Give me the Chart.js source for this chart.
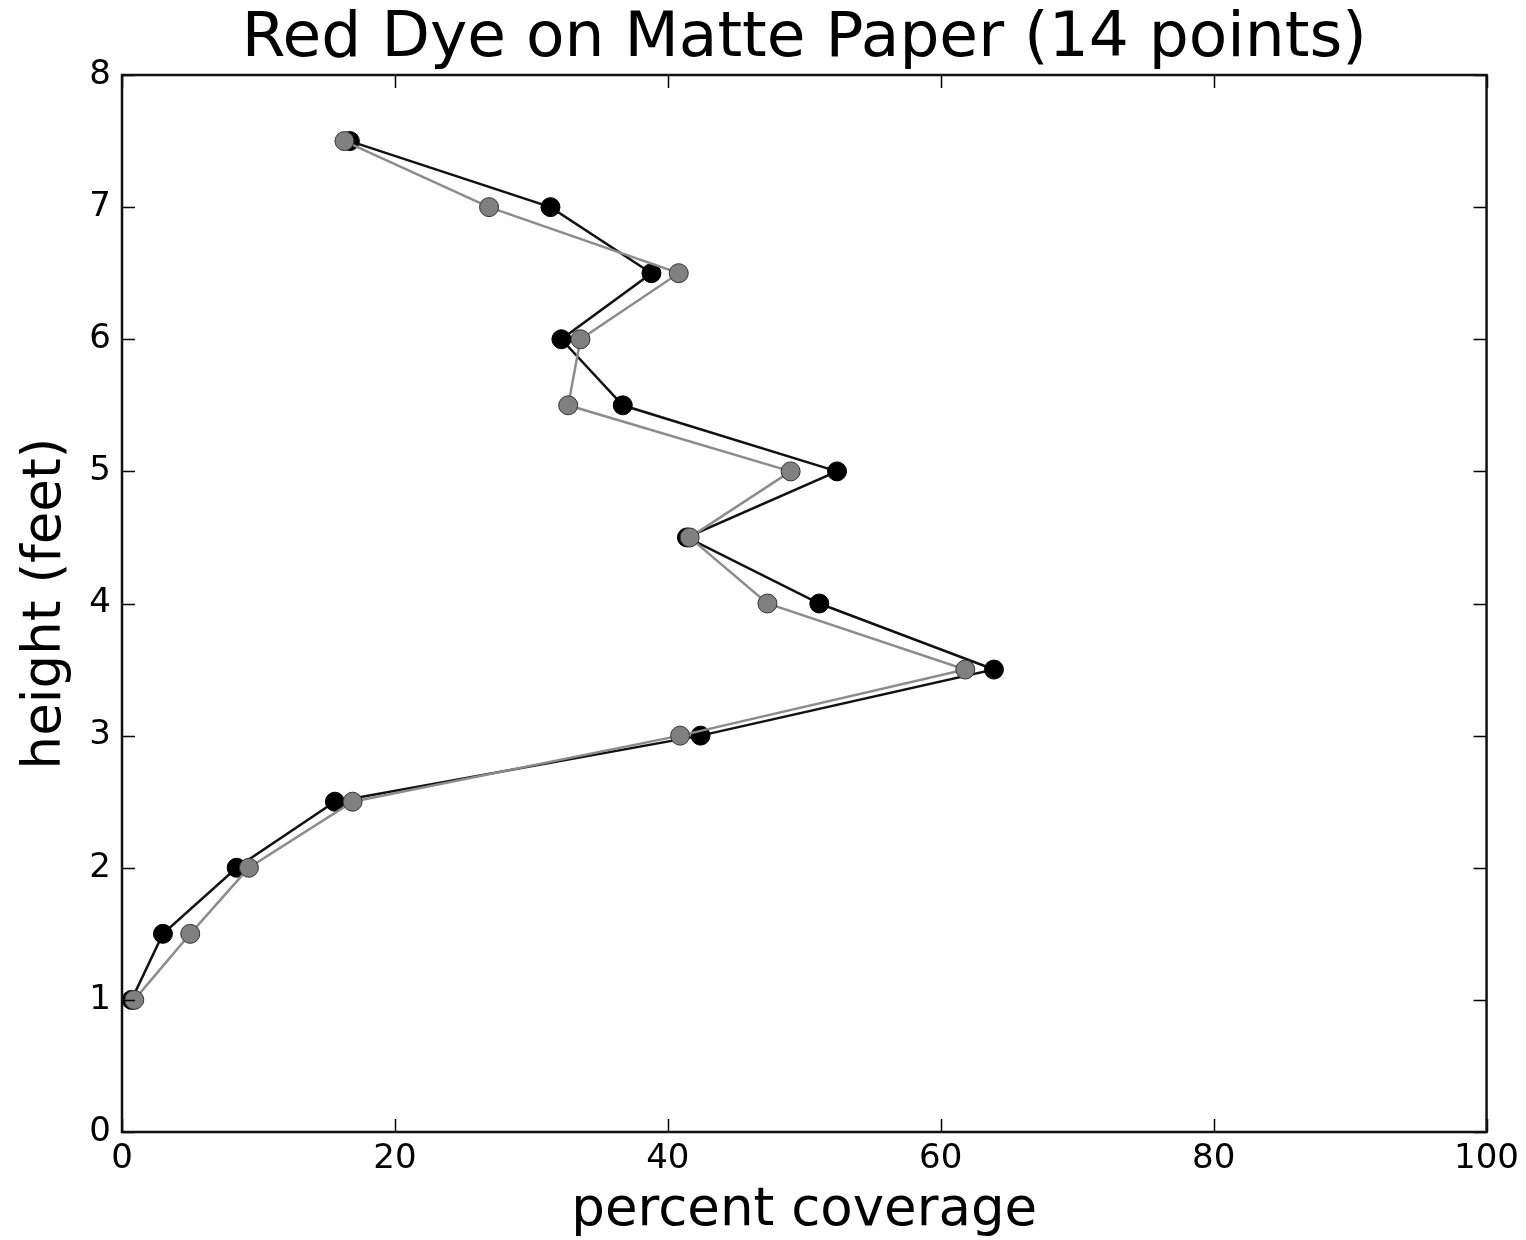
<!DOCTYPE html>
<html>
<head>
<meta charset="utf-8">
<title>Red Dye on Matte Paper (14 points)</title>
<script src="https://cdn.jsdelivr.net/npm/chart.js@4/dist/chart.umd.min.js"></script>
<style>
  html, body { margin: 0; padding: 0; background: #ffffff; }
  #c { display: block; }
</style>
</head>
<body>
<canvas id="c" width="1526" height="1240"></canvas>
<script>
// ---- data ----
const heights = [7.5, 7.0, 6.5, 6.0, 5.5, 5.0, 4.5, 4.0, 3.5, 3.0, 2.5, 2.0, 1.5, 1.0];
const blackCoverage = [16.7, 31.4, 38.8, 32.2, 36.7, 52.4, 41.4, 51.1, 63.9, 42.4, 15.6, 8.4, 3.0, 0.7];
const grayCoverage  = [16.3, 26.9, 40.8, 33.6, 32.7, 49.0, 41.6, 47.3, 61.8, 40.9, 16.9, 9.3, 5.0, 0.9];
const xTickValues = [0, 20, 40, 60, 80, 100];
const yTickValues = [0, 1, 2, 3, 4, 5, 6, 7, 8];
const chartTitle = 'Red Dye on Matte Paper (14 points)';
const xTitle = 'percent coverage';
const yTitle = 'height (feet)';

const FONT = "'DejaVu Sans', 'Liberation Sans', sans-serif";

function toPoints(xs, ys) {
  return xs.map((v, i) => ({ x: v, y: ys[i] }));
}

const whiteBg = {
  id: 'whiteBg',
  beforeDraw(chart) {
    const ctx = chart.ctx;
    ctx.save();
    ctx.fillStyle = '#ffffff';
    ctx.fillRect(0, 0, chart.width, chart.height);
    ctx.restore();
  }
};

const frame = {
  id: 'frame',
  afterDraw(chart) {
    const { ctx, chartArea: a, scales } = chart;
    const xs = scales.x, ys = scales.y;
    const tl = 13;
    ctx.save();
    ctx.strokeStyle = '#000000';
    ctx.lineWidth = 1.5;
    ctx.beginPath();
    xTickValues.forEach(v => {
      const px = Math.round(xs.getPixelForValue(v)) + 0.5;
      ctx.moveTo(px, a.bottom); ctx.lineTo(px, a.bottom - tl);
      ctx.moveTo(px, a.top); ctx.lineTo(px, a.top + tl);
    });
    yTickValues.forEach(v => {
      const py = Math.round(ys.getPixelForValue(v)) + 0.5;
      ctx.moveTo(a.left, py); ctx.lineTo(a.left + tl, py);
      ctx.moveTo(a.right, py); ctx.lineTo(a.right - tl, py);
    });
    ctx.stroke();
    ctx.lineWidth = 2.5;
    ctx.strokeStyle = '#111111';
    ctx.strokeRect(a.left, a.top, a.right - a.left, a.bottom - a.top);
    ctx.restore();
  }
};

new Chart(document.getElementById('c'), {
  type: 'scatter',
  data: {
    datasets: [
      {
        label: 'gray',
        data: toPoints(grayCoverage, heights),
        showLine: true,
        borderColor: '#8c8c8c',
        borderWidth: 2.5,
        pointBackgroundColor: '#808080',
        pointBorderColor: '#333333',
        pointBorderWidth: 1,
        pointRadius: 9.5,
        pointHoverRadius: 9.5,
        order: 0,
        clip: false
      },
      {
        label: 'black',
        data: toPoints(blackCoverage, heights),
        showLine: true,
        borderColor: '#111111',
        borderWidth: 2.5,
        pointBackgroundColor: '#000000',
        pointBorderColor: '#000000',
        pointBorderWidth: 1,
        pointRadius: 9.5,
        pointHoverRadius: 9.5,
        order: 1,
        clip: false
      }
    ]
  },
  options: {
    responsive: false,
    animation: false,
    events: [],
    layout: { padding: { left: 0, right: 39, top: 0, bottom: 0 } },
    plugins: {
      legend: { display: false },
      tooltip: { enabled: false },
      title: {
        display: true,
        text: chartTitle,
        fullSize: false,
        color: '#000000',
        font: { family: FONT, size: 63, weight: 'normal', lineHeight: '70px' },
        padding: { top: 5, bottom: 0 }
      }
    },
    scales: {
      x: {
        type: 'linear',
        min: 0,
        max: 100,
        afterFit(scale) { scale.height = 108; },
        afterBuildTicks(scale) { scale.ticks = xTickValues.map(v => ({ value: v })); },
        grid: { display: false, drawTicks: false },
        border: { display: false },
        ticks: {
          color: '#000000',
          padding: 7,
          maxRotation: 0,
          autoSkip: false,
          font: { family: FONT, size: 34 }
        },
        title: {
          display: true,
          text: xTitle,
          color: '#000000',
          font: { family: FONT, size: 53, lineHeight: '56px' },
          padding: { top: 0, bottom: 1 }
        }
      },
      y: {
        type: 'linear',
        min: 0,
        max: 8,
        afterFit(scale) { scale.width = 122; },
        afterBuildTicks(scale) { scale.ticks = yTickValues.map(v => ({ value: v })); },
        grid: { display: false, drawTicks: false },
        border: { display: false },
        ticks: {
          color: '#000000',
          padding: 11,
          autoSkip: false,
          font: { family: FONT, size: 34 }
        },
        title: {
          display: true,
          text: yTitle,
          color: '#000000',
          font: { family: FONT, size: 53, lineHeight: '62px' },
          padding: { top: 15, bottom: 0 }
        }
      }
    }
  },
  plugins: [whiteBg, frame]
});
</script>
</body>
</html>
